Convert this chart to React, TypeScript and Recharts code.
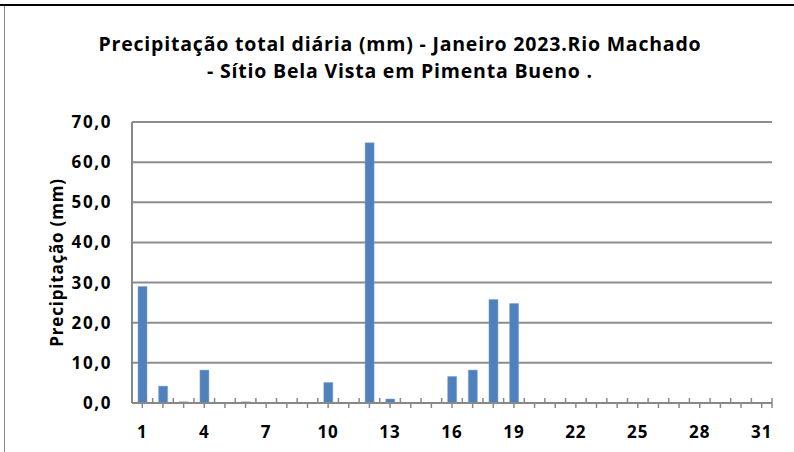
import { Bar, BarChart, CartesianGrid, XAxis, YAxis } from "recharts"

const days = [
  1, 2, 3, 4, 5, 6, 7, 8, 9, 10, 11, 12, 13, 14, 15, 16, 17, 18, 19, 20, 21, 22, 23, 24, 25, 26, 27, 28, 29, 30, 31,
]
const rain = [
  29.0, 4.2, 0.3, 8.2, 0, 0.3, 0, 0, 0, 5.1, 0, 64.8, 1.0, 0, 0, 6.6, 8.2, 25.8, 24.8, 0, 0, 0, 0, 0, 0, 0, 0, 0, 0, 0, 0,
]
const yTicks = [0, 10, 20, 30, 40, 50, 60, 70]

const data = days.map((d, i) => ({ day: String(d), value: rain[i] }))

const font = "'Open Sans', sans-serif"
const plotWidth = 640
const band = plotWidth / days.length

function XTick(props: any) {
  const { x, y, payload, index } = props
  const showLabel = index % 3 === 0
  const last = index === days.length - 1
  return (
    <g>
      <line x1={x} x2={x} y1={y} y2={y + 5} stroke="#888" strokeWidth={1.5} />
      <line x1={x + band / 2} x2={x + band / 2} y1={y - 5} y2={last ? y + 5 : y} stroke="#888" strokeWidth={1.5} />
      {showLabel && (
        <text
          x={x}
          y={y + 35}
          textAnchor="middle"
          fontFamily={font}
          fontWeight={700}
          fontSize={17}
          letterSpacing={1}
          fill="#000"
        >
          {payload.value}
        </text>
      )}
    </g>
  )
}

function YTick(props: any) {
  const { x, y, payload } = props
  return (
    <text
      x={x - 20}
      y={y + 6}
      textAnchor="end"
      fontFamily={font}
      fontWeight={700}
      fontSize={17}
      letterSpacing={1.6}
      fill="#000"
    >
      {payload.value.toFixed(1).replace(".", ",")}
    </text>
  )
}

export default function App() {
  return (
    <div style={{ position: "absolute", left: 0, top: 0, width: 794, height: 452, background: "#fff" }}>
      <div style={{ position: "absolute", left: 0, top: 4, width: 794, height: 2, background: "#000" }} />
      <div style={{ position: "absolute", left: 4, top: 6, width: 1, height: 446, background: "#888" }} />
      <div
        style={{
          position: "absolute",
          left: 0,
          top: 30,
          width: 800,
          textAlign: "center",
          fontFamily: font,
          fontWeight: 700,
          fontSize: 19.5,
          letterSpacing: 0.8,
          lineHeight: "27px",
          color: "#000",
        }}
      >
        Precipitação total diária (mm) - Janeiro 2023.Rio Machado
        <br />- Sítio Bela Vista em Pimenta Bueno .
      </div>
      <BarChart
        width={794}
        height={452}
        data={data}
        margin={{ top: 122, right: 22, bottom: 0, left: 62 }}
        barSize={9}
      >
        <CartesianGrid vertical={false} stroke="#8c8c8c" strokeWidth={2} />
        <XAxis
          dataKey="day"
          interval={0}
          tickLine={false}
          tickSize={0}
          tickMargin={0}
          axisLine={{ stroke: "#888", strokeWidth: 2 }}
          tick={<XTick />}
          height={49}
        />
        <YAxis
          domain={[0, 70]}
          ticks={yTicks}
          width={70}
          tickLine={false}
          tickSize={0}
          tickMargin={0}
          axisLine={{ stroke: "#888", strokeWidth: 2 }}
          tick={<YTick />}
          label={{
            value: "Precipitação (mm)",
            content: (p: any) => {
              const vb = p.viewBox
              const cx = 56
              const cy = vb.y + vb.height / 2
              return (
                <text
                  x={cx}
                  y={cy}
                  transform={`rotate(-90 ${cx} ${cy})`}
                  textAnchor="middle"
                  dominantBaseline="central"
                  fontFamily={font}
                  fontWeight={700}
                  fontSize={17}
                  letterSpacing={0.8}
                  fill="#000"
                >
                  Precipitação (mm)
                </text>
              )
            },
          }}
        />
        <Bar dataKey="value" fill="#4f81bd" stroke="#7ea3d3" strokeWidth={0.5} isAnimationActive={false} />
      </BarChart>
    </div>
  )
}
